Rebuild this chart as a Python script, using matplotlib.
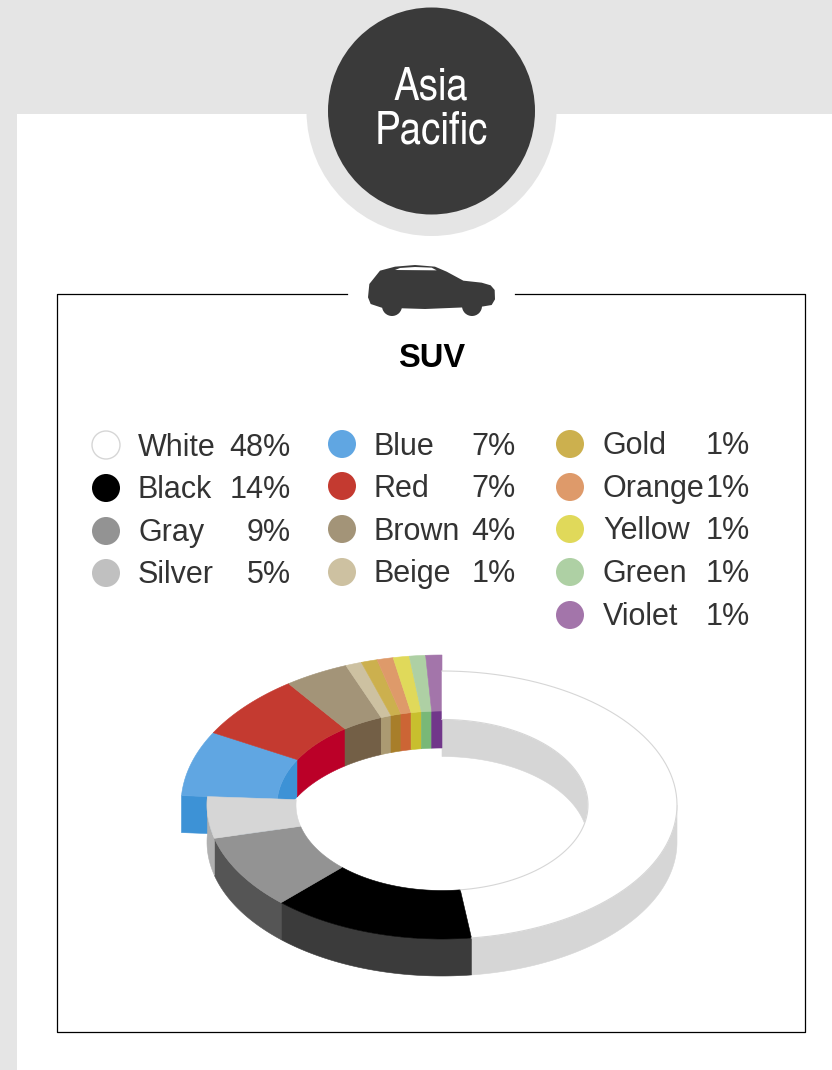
import numpy as np
import matplotlib
matplotlib.use('Agg')
import matplotlib.pyplot as plt
from matplotlib.patches import Polygon, Circle, Rectangle, Ellipse

# legend / slice data, clockwise from 12 o'clock
colors = ['White', 'Black', 'Gray', 'Silver', 'Blue', 'Red', 'Brown', 'Beige',
          'Gold', 'Orange', 'Yellow', 'Green', 'Violet']
shares = [48, 14, 9, 5, 7, 7, 4, 1, 1, 1, 1, 1, 1]
top_colors = ['#ffffff', '#000000', '#939393', '#d6d6d6', '#60a6e2', '#c43a30', '#a39478',
              '#cdc1a1', '#ccb04e', '#de9a6a', '#e0d95a', '#aed0a4', '#a375aa']
wall_colors = ['#d6d6d6', '#3b3b3b', '#555555', '#b0b0b0', '#3d92d6', '#bb0028', '#735f46',
               '#ab9a72', '#a87e2a', '#cc6535', '#c8bf2e', '#79b877', '#71378a']
dots = ['#ffffff', '#000000', '#939393', '#c0c0c0', '#60a6e2', '#c43a30', '#a39478',
        '#cdc1a1', '#ccb04e', '#de9a6a', '#e0d95a', '#aed0a4', '#a375aa']

region = ['Asia', 'Pacific']
segment = 'SUV'

PLAIN = ['Liberation Sans', 'DejaVu Sans']
NARROW = ['TeX Gyre Heros Cn', 'Roboto Condensed', 'Liberation Sans', 'DejaVu Sans']

fig = plt.figure(figsize=(8.32, 10.7), dpi=100)
ax = fig.add_axes([0, 0, 1, 1])
ax.set_xlim(0, 832)
ax.set_ylim(1070, 0)
ax.axis('off')

# page background
ax.add_patch(Rectangle((0, 0), 832, 1070, fc='#e5e5e5', ec='none', zorder=0))
ax.add_patch(Rectangle((17, 114), 815, 956, fc='white', ec='none', zorder=0.5))
ax.add_patch(Circle((431.5, 111), 125, fc='#e5e5e5', ec='none', zorder=1))
ax.add_patch(Circle((431.5, 111), 103.5, fc='#3a3a3a', ec='none', zorder=2))
ax.text(431, 99, region[0], color='white', fontsize=33.8, family=NARROW, ha='center', va='baseline', zorder=3)
ax.text(431, 144, region[1], color='white', fontsize=33.8, family=NARROW, ha='center', va='baseline', zorder=3)

# frame with gap for the car
ax.plot([347, 57, 57, 805, 805, 515], [294, 294, 1032, 1032, 294, 294], color='black', lw=0.9, zorder=2)

# car icon, traced in 3x units
car = np.array([(204, 172), (208, 132), (240, 92), (285, 80), (345, 75), (405, 80), (440, 95),
                (490, 122), (545, 128), (572, 136), (584, 150), (585, 178), (575, 195), (545, 200),
                (375, 207), (245, 203), (212, 192)], float)
ax.add_patch(Polygon(car / 3 + [300, 240], fc='#3a3a3a', ec='none', zorder=3))
ax.add_patch(Circle((392, 306), 10, fc='#3a3a3a', ec='none', zorder=3))
ax.add_patch(Circle((472, 306), 10, fc='#3a3a3a', ec='none', zorder=3))
glass = np.array([(285, 90), (300, 84), (345, 81), (395, 83), (410, 91)], float)
ax.add_patch(Polygon(glass / 3 + [300, 240], fc='white', ec='none', zorder=4))
ax.text(432, 367, segment, fontsize=23.5, family=PLAIN, weight='bold', ha='center', va='baseline', zorder=3)

# legend
col_dot_x = [106, 342, 570]
col_name_x = [138, 374, 603]
col_pct_x = [291, 516, 750]
col_dot_y = [[445, 488, 531, 573], [444, 486, 529, 572], [444, 487, 529, 572, 615]]
col_base_y = [[456, 498, 541, 583], [455, 497, 540, 582], [454, 497, 539, 582, 625]]
order = [['White', 'Black', 'Gray', 'Silver'], ['Blue', 'Red', 'Brown', 'Beige'],
         ['Gold', 'Orange', 'Yellow', 'Green', 'Violet']]
for c, names in enumerate(order):
    for r, name in enumerate(names):
        i = colors.index(name)
        y = col_base_y[c][r]
        ax.add_patch(Circle((col_dot_x[c], col_dot_y[c][r]), 14, fc=dots[i],
                            ec='#d6d6d6' if name == 'White' else 'none', lw=1, zorder=3))
        ax.text(col_name_x[c], y, name, fontsize=22, family=PLAIN, color='#333333', ha='left', va='baseline', zorder=3)
        ax.text(col_pct_x[c], y, '%d%%' % shares[i], fontsize=22, family=PLAIN, color='#333333', ha='right', va='baseline', zorder=3)

# doughnut geometry, in pixels
cx, cy = 442, 805
depth = 37
base = (235, 134, 146, 85.5)  # outer rx, ry, inner rx, ry
lifted = (261, 150, 165, 94)  # the slices pulled out
lifted_from = 'Blue'


def arc(a0, a1, rx, ry, dy=0):
    t = np.radians(np.linspace(a0, a1, 80))
    return np.column_stack([cx + rx * np.sin(t), cy - ry * np.cos(t) + dy])


def fill(pts, fc, z, ec=None):
    p = Polygon(pts, fc=fc, ec=ec or fc, lw=0.4, zorder=z)
    ax.add_patch(p)
    return p


edges = np.cumsum([0] + shares) * 3.6
first_lift = colors.index(lifted_from)

# inner wall of the white slice, seen through the hole
hole = Ellipse((cx, cy), 2 * base[2], 2 * base[3], fc='white', ec='none', zorder=5)
ax.add_patch(hole)
wall = fill(np.vstack([arc(edges[0], 90, base[2], base[3]),
                       arc(90, edges[0], base[2], base[3], depth)]), wall_colors[0], 6)
wall.set_clip_path(hole)

# outer walls of the front slices
for i in range(first_lift):
    a0, a1 = edges[i], edges[i + 1]
    if a1 <= 90:
        continue
    a0 = max(a0, 90)
    fill(np.vstack([arc(a0, a1, base[0], base[1]), arc(a1, a0, base[0], base[1], depth)]), wall_colors[i], 7)

# cut face of the blue slice
a = edges[first_lift]
p0 = arc(a, a, lifted[0], lifted[1])[0]
p1 = arc(a, a, lifted[2], lifted[3])[0]
fill([p0, p1, p1 + [0, depth], p0 + [0, depth]], wall_colors[first_lift], 6.5)

# inner walls of the pulled out slices
for i in range(first_lift, len(shares)):
    a0, a1 = edges[i], edges[i + 1]
    fill(np.vstack([arc(a0, a1, lifted[2], lifted[3]), arc(a1, a0, lifted[2], lifted[3], depth)]), wall_colors[i], 6.6)

# top faces
for i in range(len(shares)):
    g = lifted if i >= first_lift else base
    a0, a1 = edges[i], edges[i + 1]
    z = 8 if i < first_lift else 7.5
    fill(np.vstack([arc(a0, a1, g[0], g[1]), arc(a1, a0, g[2], g[3])]), top_colors[i], z)

# thin outline on the white slice
o = arc(edges[0], edges[1], base[0], base[1])
n = arc(edges[0], edges[1], base[2], base[3])
ax.plot(o[:, 0], o[:, 1], color='#d6d6d6', lw=0.8, zorder=9)
ax.plot(n[:, 0], n[:, 1], color='#d6d6d6', lw=0.8, zorder=9)

fig.savefig('out.png', dpi=100)
